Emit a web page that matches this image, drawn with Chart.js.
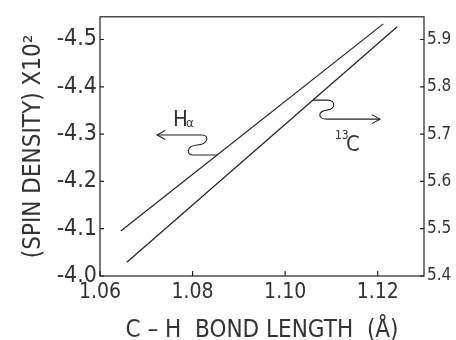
<!DOCTYPE html>
<html>
<head>
<meta charset="utf-8">
<script src="https://cdn.jsdelivr.net/npm/chart.js@4.4.0/dist/chart.umd.min.js"></script>
<style>
  html, body { margin: 0; padding: 0; background: #fff; }
  #wrap { width: 456px; height: 340px; }
</style>
</head>
<body>
<div id="wrap"><canvas id="spinChart" width="456" height="340"></canvas></div>
<script>
// C-H bond length (angstrom) vs spin density, two straight-line fits
const hAlphaBond = [1.0645, 1.1212];
const hAlphaSpin = [-4.095, -4.533];
const c13Bond = [1.0658, 1.1242];
const c13Spin = [5.429, 5.927];

const bondTicks = [1.06, 1.08, 1.10, 1.12];
const leftTicks = [-4.0, -4.1, -4.2, -4.3, -4.4, -4.5];
const rightTicks = [5.4, 5.5, 5.6, 5.7, 5.8, 5.9];

const ink = "#222";
const textInk = "#333";
const fontFamily = "'DejaVu Sans Condensed', 'Liberation Sans Narrow', sans-serif";

function toPoints(xs, ys) {
  return xs.map((x, i) => ({ x: x, y: ys[i] }));
}

// pixel position on a dataset's line at a given x value
function lineAt(chart, datasetIndex, xValue) {
  const pts = chart.getDatasetMeta(datasetIndex).data;
  const xPix = chart.scales.x.getPixelForValue(xValue);
  const a = pts[0], b = pts[1];
  const t = (xPix - a.x) / (b.x - a.x);
  return { x: xPix, y: a.y + t * (b.y - a.y) };
}

function arrowHead(ctx, x, y, dir) {
  ctx.beginPath();
  ctx.moveTo(x - dir * 8, y - 4.5);
  ctx.lineTo(x, y);
  ctx.lineTo(x - dir * 8, y + 4.5);
  ctx.stroke();
}

const framePlugin = {
  id: "frameAndNotes",
  afterDatasetsDraw(chart) {
    const { ctx, chartArea: area, scales } = chart;
    ctx.save();
    ctx.strokeStyle = ink;
    ctx.lineWidth = 1.2;
    ctx.strokeRect(area.left, area.top, area.right - area.left, area.bottom - area.top);

    // inward tick marks
    ctx.beginPath();
    bondTicks.forEach((v) => {
      const x = scales.x.getPixelForValue(v);
      ctx.moveTo(x, area.bottom);
      ctx.lineTo(x, area.bottom - 5);
    });
    leftTicks.forEach((v) => {
      const y = scales.yLeft.getPixelForValue(v);
      ctx.moveTo(area.left, y);
      ctx.lineTo(area.left + 4, y);
    });
    rightTicks.forEach((v) => {
      const y = scales.yRight.getPixelForValue(v);
      ctx.moveTo(area.right, y);
      ctx.lineTo(area.right - 4, y);
    });
    ctx.stroke();

    // H-alpha pointer: squiggle off the upper line, arrow to the left axis
    const h = lineAt(chart, 0, 1.0853);
    ctx.lineWidth = 1.1;
    ctx.beginPath();
    ctx.moveTo(h.x, h.y);
    ctx.lineTo(h.x - 24, h.y);
    ctx.bezierCurveTo(h.x - 31, h.y, h.x - 31, h.y - 9, h.x - 20, h.y - 10);
    ctx.bezierCurveTo(h.x - 8, h.y - 11, h.x - 8, h.y - 20, h.x - 15, h.y - 20);
    ctx.lineTo(h.x - 60, h.y - 20);
    ctx.stroke();
    arrowHead(ctx, h.x - 60, h.y - 20, -1);

    ctx.fillStyle = textInk;
    ctx.textBaseline = "alphabetic";
    ctx.textAlign = "left";
    ctx.font = "22px " + fontFamily;
    ctx.fillText("H", h.x - 44, h.y - 29);
    ctx.font = "13px " + fontFamily;
    ctx.fillText("α", h.x - 31, h.y - 28);

    // 13C pointer: squiggle off the lower line, arrow to the right axis
    const c = lineAt(chart, 1, 1.106);
    ctx.beginPath();
    ctx.moveTo(c.x, c.y);
    ctx.lineTo(c.x + 15, c.y);
    ctx.bezierCurveTo(c.x + 23, c.y, c.x + 23, c.y + 9, c.x + 14, c.y + 10);
    ctx.bezierCurveTo(c.x + 5, c.y + 11, c.x + 4, c.y + 19, c.x + 14, c.y + 19);
    ctx.lineTo(c.x + 67, c.y + 19);
    ctx.stroke();
    arrowHead(ctx, c.x + 67, c.y + 19, 1);

    ctx.font = "12px " + fontFamily;
    ctx.fillText("13", c.x + 22, c.y + 39);
    ctx.font = "22px " + fontFamily;
    ctx.fillText("C", c.x + 33, c.y + 51);
    ctx.restore();
  },
};

const lineStyle = {
  showLine: true,
  borderColor: ink,
  borderWidth: 1.2,
  pointRadius: 0,
  tension: 0,
  fill: false,
};

new Chart(document.getElementById("spinChart"), {
  type: "scatter",
  data: {
    datasets: [
      { label: "Hα", data: toPoints(hAlphaBond, hAlphaSpin), yAxisID: "yLeft", ...lineStyle },
      { label: "13C", data: toPoints(c13Bond, c13Spin), yAxisID: "yRight", ...lineStyle },
    ],
  },
  options: {
    responsive: false,
    animation: false,
    layout: { padding: { top: 14, left: 0, right: 0, bottom: 0 } },
    plugins: { legend: { display: false }, tooltip: { enabled: false } },
    scales: {
      x: {
        type: "linear",
        min: 1.06,
        max: 1.13,
        afterBuildTicks: (s) => { s.ticks = bondTicks.map((v) => ({ value: v })); },
        afterFit: (s) => { s.height = 64; },
        grid: { display: false, drawTicks: false },
        border: { display: false },
        ticks: {
          color: textInk,
          padding: 4,
          maxRotation: 0,
          font: { family: fontFamily, size: 21 },
          callback: (v) => Number(v).toFixed(2),
        },
        title: {
          display: true,
          text: "C – H  BOND LENGTH  (Å)",
          color: textInk,
          font: { family: fontFamily, size: 24, lineHeight: 0.8 },
          padding: { top: 0, bottom: 0 },
        },
      },
      yLeft: {
        type: "linear",
        position: "left",
        min: -4.548,
        max: -4.0,
        reverse: true,
        afterBuildTicks: (s) => { s.ticks = leftTicks.map((v) => ({ value: v })); },
        afterFit: (s) => { s.width = 100; },
        grid: { display: false, drawTicks: false },
        border: { display: false },
        ticks: {
          color: textInk,
          padding: 3,
          font: { family: fontFamily, size: 23 },
          callback: (v) => Number(v).toFixed(1),
        },
        title: {
          display: true,
          text: "(SPIN DENSITY) X10²",
          color: textInk,
          font: { family: fontFamily, size: 24 },
          padding: { top: 19, bottom: 0 },
        },
      },
      yRight: {
        type: "linear",
        position: "right",
        min: 5.4,
        max: 5.948,
        afterBuildTicks: (s) => { s.ticks = rightTicks.map((v) => ({ value: v })); },
        afterFit: (s) => { s.width = 32; },
        grid: { display: false, drawTicks: false },
        border: { display: false },
        ticks: {
          color: textInk,
          padding: 3,
          font: { family: fontFamily, size: 17 },
          callback: (v) => Number(v).toFixed(1),
        },
      },
    },
  },
  plugins: [framePlugin],
});
</script>
</body>
</html>
